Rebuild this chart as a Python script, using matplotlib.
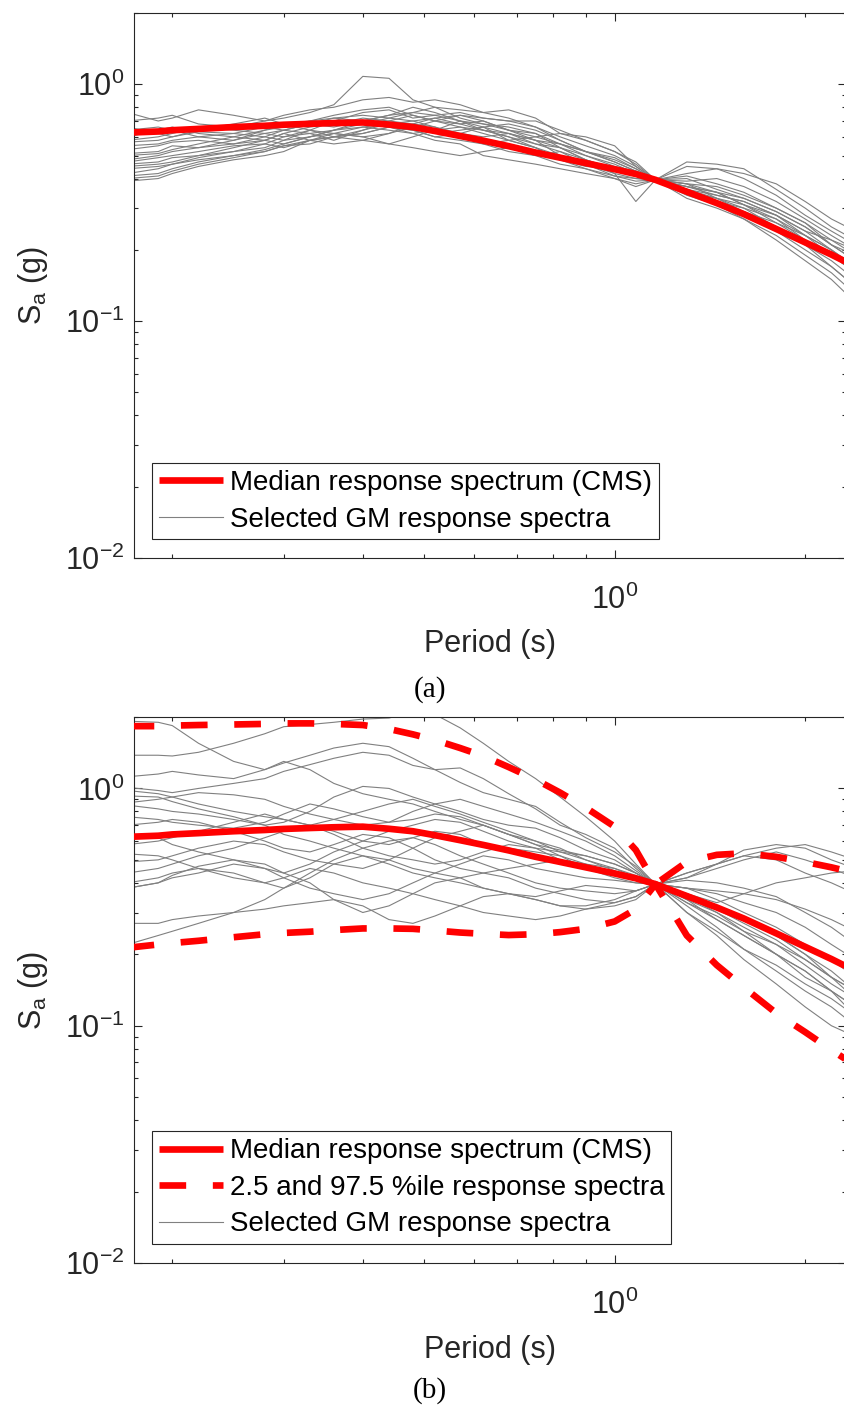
import numpy as np
import matplotlib
matplotlib.use("Agg")
import matplotlib.pyplot as plt
from matplotlib.ticker import LogLocator, NullFormatter, LogFormatterSciNotation

plt.rcParams['font.family'] = ['Liberation Sans', 'DejaVu Sans']
plt.rcParams['mathtext.default'] = 'regular'

# conditioning period and plotting range (s)
T_star = 1.16
x_lim = (0.174, 2.32)
y_lim = (0.01, 2.0)

periods = [0.17, 0.19, 0.20, 0.22, 0.25, 0.28, 0.30, 0.33, 0.36, 0.40,
           0.44, 0.48, 0.52, 0.57, 0.62, 0.68, 0.75, 0.82, 0.90, 1.00,
           1.08, 1.16, 1.30, 1.45, 1.60, 1.80, 2.00, 2.20, 2.40]

# conditional mean spectrum (median) and 2.5 / 97.5 percentile spectra, Sa in g
cms_median = [0.625, 0.632, 0.640, 0.648, 0.660, 0.668, 0.675, 0.681, 0.686, 0.690,
              0.676, 0.660, 0.635, 0.605, 0.578, 0.548, 0.515, 0.490, 0.465, 0.438,
              0.418, 0.395, 0.352, 0.315, 0.283, 0.245, 0.215, 0.191, 0.170]
cms_upper = [1.83, 1.83, 1.84, 1.85, 1.86, 1.87, 1.88, 1.88, 1.87, 1.85,
             1.78, 1.69, 1.60, 1.48, 1.37, 1.23, 1.09, 0.96, 0.83, 0.69,
             0.55, 0.395, 0.49, 0.525, 0.533, 0.515, 0.49, 0.465, 0.44]
cms_lower = [0.213, 0.220, 0.223, 0.228, 0.236, 0.243, 0.246, 0.249, 0.253, 0.257,
             0.257, 0.256, 0.252, 0.247, 0.244, 0.241, 0.243, 0.248, 0.256, 0.275,
             0.31, 0.395, 0.24, 0.18, 0.145, 0.113, 0.094, 0.079, 0.068]

# selected ground motion spectra, case (a)
gm_a = [
    [0.76, 0.70, 0.72, 0.78, 0.74, 0.70, 0.72, 0.76, 0.82, 1.08, 1.06, 0.86, 0.80, 0.78, 0.76, 0.72, 0.66, 0.58, 0.52, 0.47, 0.43, 0.395, 0.37, 0.35, 0.31, 0.26, 0.22, 0.19, 0.16],
    [0.70, 0.72, 0.74, 0.68, 0.66, 0.70, 0.74, 0.78, 0.80, 0.86, 0.88, 0.84, 0.86, 0.82, 0.76, 0.78, 0.72, 0.62, 0.60, 0.55, 0.45, 0.395, 0.42, 0.44, 0.40, 0.34, 0.28, 0.24, 0.21],
    [0.66, 0.62, 0.60, 0.64, 0.68, 0.72, 0.68, 0.70, 0.74, 0.78, 0.80, 0.74, 0.70, 0.68, 0.70, 0.64, 0.58, 0.56, 0.52, 0.49, 0.44, 0.395, 0.36, 0.34, 0.32, 0.28, 0.24, 0.22, 0.20],
    [0.60, 0.64, 0.66, 0.62, 0.60, 0.64, 0.66, 0.70, 0.72, 0.74, 0.72, 0.76, 0.80, 0.72, 0.68, 0.66, 0.62, 0.54, 0.50, 0.46, 0.42, 0.395, 0.41, 0.38, 0.35, 0.30, 0.26, 0.21, 0.18],
    [0.57, 0.58, 0.60, 0.63, 0.62, 0.60, 0.64, 0.68, 0.66, 0.70, 0.74, 0.80, 0.76, 0.70, 0.64, 0.60, 0.56, 0.54, 0.48, 0.44, 0.41, 0.395, 0.38, 0.33, 0.29, 0.26, 0.23, 0.20, 0.17],
    [0.55, 0.56, 0.58, 0.60, 0.58, 0.62, 0.60, 0.64, 0.70, 0.76, 0.78, 0.72, 0.74, 0.76, 0.72, 0.70, 0.66, 0.60, 0.55, 0.50, 0.45, 0.395, 0.35, 0.33, 0.30, 0.25, 0.21, 0.18, 0.15],
    [0.53, 0.55, 0.57, 0.58, 0.56, 0.58, 0.62, 0.66, 0.68, 0.72, 0.70, 0.68, 0.66, 0.60, 0.56, 0.58, 0.60, 0.62, 0.58, 0.52, 0.46, 0.395, 0.47, 0.46, 0.44, 0.36, 0.30, 0.25, 0.22],
    [0.51, 0.52, 0.55, 0.54, 0.56, 0.60, 0.58, 0.60, 0.64, 0.68, 0.72, 0.70, 0.66, 0.62, 0.60, 0.62, 0.58, 0.50, 0.46, 0.42, 0.40, 0.395, 0.37, 0.35, 0.33, 0.29, 0.25, 0.21, 0.19],
    [0.50, 0.51, 0.53, 0.56, 0.60, 0.58, 0.56, 0.60, 0.62, 0.60, 0.62, 0.66, 0.70, 0.74, 0.70, 0.64, 0.60, 0.56, 0.50, 0.45, 0.43, 0.395, 0.39, 0.40, 0.37, 0.32, 0.27, 0.23, 0.20],
    [0.48, 0.50, 0.52, 0.54, 0.58, 0.64, 0.68, 0.64, 0.60, 0.62, 0.66, 0.64, 0.60, 0.58, 0.56, 0.52, 0.50, 0.52, 0.48, 0.42, 0.32, 0.395, 0.34, 0.31, 0.28, 0.24, 0.20, 0.17, 0.14],
    [0.47, 0.49, 0.50, 0.52, 0.55, 0.56, 0.60, 0.62, 0.58, 0.64, 0.70, 0.74, 0.70, 0.66, 0.64, 0.60, 0.54, 0.48, 0.44, 0.40, 0.37, 0.395, 0.36, 0.32, 0.30, 0.27, 0.22, 0.19, 0.17],
    [0.46, 0.47, 0.49, 0.50, 0.54, 0.58, 0.62, 0.58, 0.56, 0.58, 0.62, 0.68, 0.72, 0.68, 0.64, 0.62, 0.56, 0.52, 0.46, 0.41, 0.39, 0.395, 0.33, 0.30, 0.27, 0.23, 0.19, 0.16, 0.13],
    [0.45, 0.46, 0.47, 0.50, 0.52, 0.54, 0.58, 0.64, 0.62, 0.60, 0.56, 0.60, 0.64, 0.70, 0.66, 0.58, 0.54, 0.50, 0.47, 0.43, 0.41, 0.395, 0.38, 0.37, 0.34, 0.30, 0.26, 0.22, 0.19],
    [0.44, 0.45, 0.46, 0.48, 0.50, 0.52, 0.55, 0.58, 0.60, 0.64, 0.68, 0.66, 0.62, 0.64, 0.66, 0.62, 0.58, 0.54, 0.48, 0.44, 0.42, 0.395, 0.36, 0.33, 0.31, 0.28, 0.23, 0.20, 0.16],
    [0.42, 0.44, 0.46, 0.49, 0.52, 0.56, 0.54, 0.58, 0.62, 0.66, 0.64, 0.62, 0.58, 0.56, 0.50, 0.48, 0.46, 0.44, 0.42, 0.40, 0.38, 0.395, 0.35, 0.31, 0.27, 0.22, 0.18, 0.15, 0.12],
    [0.41, 0.42, 0.44, 0.47, 0.50, 0.53, 0.56, 0.60, 0.64, 0.70, 0.74, 0.76, 0.74, 0.70, 0.68, 0.64, 0.62, 0.56, 0.52, 0.47, 0.43, 0.395, 0.40, 0.36, 0.33, 0.29, 0.25, 0.21, 0.18],
    [0.40, 0.41, 0.43, 0.46, 0.49, 0.52, 0.55, 0.56, 0.60, 0.62, 0.66, 0.64, 0.60, 0.62, 0.66, 0.68, 0.64, 0.58, 0.52, 0.48, 0.44, 0.395, 0.37, 0.34, 0.32, 0.28, 0.24, 0.20, 0.17],
    [0.39, 0.40, 0.42, 0.45, 0.48, 0.50, 0.52, 0.58, 0.60, 0.58, 0.56, 0.54, 0.52, 0.50, 0.52, 0.54, 0.50, 0.46, 0.44, 0.41, 0.40, 0.395, 0.38, 0.35, 0.31, 0.27, 0.23, 0.19, 0.16],
    [0.58, 0.60, 0.62, 0.66, 0.64, 0.62, 0.64, 0.62, 0.64, 0.66, 0.68, 0.70, 0.72, 0.74, 0.72, 0.70, 0.70, 0.64, 0.58, 0.52, 0.47, 0.395, 0.45, 0.44, 0.42, 0.38, 0.32, 0.27, 0.24],
    [0.64, 0.66, 0.64, 0.60, 0.62, 0.66, 0.64, 0.68, 0.72, 0.70, 0.66, 0.62, 0.64, 0.66, 0.62, 0.58, 0.54, 0.48, 0.45, 0.44, 0.43, 0.395, 0.36, 0.32, 0.29, 0.25, 0.21, 0.17, 0.14],
]

# selected ground motion spectra, case (b)
gm_b = [
    [1.92, 1.90, 1.84, 1.55, 1.30, 1.20, 1.28, 1.38, 1.48, 1.55, 1.50, 1.34, 1.20, 1.06, 0.96, 0.90, 0.84, 0.72, 0.62, 0.54, 0.47, 0.395, 0.33, 0.28, 0.24, 0.20, 0.17, 0.14, 0.12],
    [1.38, 1.38, 1.37, 1.42, 1.55, 1.70, 1.82, 1.86, 1.90, 1.96, 1.98, 2.10, 2.05, 1.80, 1.55, 1.30, 1.10, 0.92, 0.76, 0.60, 0.48, 0.395, 0.35, 0.30, 0.25, 0.20, 0.16, 0.14, 0.12],
    [1.12, 1.15, 1.18, 1.14, 1.10, 1.20, 1.30, 1.20, 1.05, 0.95, 0.90, 0.86, 0.80, 0.74, 0.70, 0.64, 0.58, 0.55, 0.52, 0.48, 0.44, 0.395, 0.42, 0.48, 0.55, 0.58, 0.56, 0.50, 0.46],
    [1.01, 0.98, 0.96, 1.00, 1.05, 1.10, 1.18, 1.26, 1.34, 1.42, 1.38, 1.25, 1.20, 1.22, 1.10, 0.95, 0.82, 0.70, 0.64, 0.56, 0.46, 0.395, 0.36, 0.32, 0.28, 0.24, 0.20, 0.16, 0.13],
    [0.87, 0.90, 0.92, 0.96, 0.94, 0.90, 0.84, 0.78, 0.74, 0.70, 0.72, 0.80, 0.86, 0.90, 0.84, 0.78, 0.72, 0.66, 0.60, 0.52, 0.45, 0.395, 0.44, 0.48, 0.52, 0.50, 0.44, 0.40, 0.36],
    [0.85, 0.82, 0.80, 0.78, 0.74, 0.70, 0.72, 0.80, 0.92, 1.02, 1.00, 0.92, 0.86, 0.80, 0.74, 0.70, 0.68, 0.62, 0.55, 0.50, 0.44, 0.395, 0.36, 0.33, 0.36, 0.40, 0.42, 0.44, 0.45],
    [0.98, 0.95, 0.92, 0.86, 0.80, 0.76, 0.74, 0.70, 0.66, 0.60, 0.58, 0.62, 0.66, 0.64, 0.58, 0.56, 0.54, 0.52, 0.48, 0.46, 0.42, 0.395, 0.38, 0.36, 0.33, 0.30, 0.26, 0.22, 0.19],
    [0.76, 0.74, 0.72, 0.70, 0.68, 0.72, 0.78, 0.86, 0.82, 0.76, 0.72, 0.74, 0.78, 0.76, 0.70, 0.64, 0.58, 0.52, 0.46, 0.44, 0.42, 0.395, 0.34, 0.30, 0.26, 0.22, 0.18, 0.15, 0.13],
    [0.58, 0.60, 0.62, 0.66, 0.72, 0.78, 0.74, 0.70, 0.74, 0.80, 0.86, 0.90, 0.84, 0.78, 0.72, 0.66, 0.60, 0.54, 0.50, 0.46, 0.43, 0.395, 0.41, 0.40, 0.38, 0.35, 0.30, 0.26, 0.22],
    [0.64, 0.62, 0.58, 0.54, 0.50, 0.46, 0.44, 0.48, 0.54, 0.60, 0.66, 0.70, 0.74, 0.72, 0.66, 0.60, 0.56, 0.54, 0.52, 0.48, 0.44, 0.395, 0.34, 0.28, 0.24, 0.20, 0.17, 0.14, 0.11],
    [0.49, 0.50, 0.52, 0.56, 0.60, 0.58, 0.54, 0.50, 0.48, 0.46, 0.50, 0.56, 0.62, 0.66, 0.70, 0.64, 0.60, 0.56, 0.50, 0.45, 0.42, 0.395, 0.30, 0.24, 0.19, 0.15, 0.12, 0.10, 0.09],
    [0.44, 0.46, 0.48, 0.52, 0.56, 0.62, 0.66, 0.70, 0.64, 0.56, 0.52, 0.50, 0.48, 0.50, 0.54, 0.58, 0.56, 0.50, 0.46, 0.42, 0.40, 0.395, 0.36, 0.31, 0.27, 0.23, 0.19, 0.16, 0.14],
    [0.40, 0.42, 0.44, 0.46, 0.44, 0.40, 0.38, 0.42, 0.48, 0.52, 0.50, 0.46, 0.44, 0.48, 0.52, 0.50, 0.46, 0.44, 0.42, 0.41, 0.40, 0.395, 0.38, 0.34, 0.30, 0.26, 0.22, 0.19, 0.16],
    [0.38, 0.40, 0.42, 0.44, 0.48, 0.46, 0.42, 0.38, 0.36, 0.34, 0.36, 0.40, 0.44, 0.42, 0.38, 0.36, 0.35, 0.37, 0.39, 0.38, 0.37, 0.395, 0.33, 0.29, 0.25, 0.22, 0.19, 0.16, 0.14],
    [0.38, 0.40, 0.43, 0.47, 0.50, 0.48, 0.44, 0.40, 0.34, 0.30, 0.32, 0.36, 0.40, 0.42, 0.44, 0.42, 0.38, 0.36, 0.34, 0.33, 0.35, 0.395, 0.42, 0.46, 0.50, 0.54, 0.50, 0.46, 0.42],
    [0.27, 0.27, 0.28, 0.29, 0.30, 0.31, 0.32, 0.33, 0.34, 0.32, 0.28, 0.27, 0.29, 0.32, 0.35, 0.36, 0.34, 0.32, 0.31, 0.33, 0.35, 0.395, 0.36, 0.32, 0.28, 0.24, 0.20, 0.17, 0.14],
    [0.22, 0.24, 0.25, 0.27, 0.30, 0.34, 0.38, 0.44, 0.50, 0.56, 0.60, 0.62, 0.58, 0.52, 0.48, 0.44, 0.40, 0.38, 0.37, 0.36, 0.37, 0.395, 0.32, 0.26, 0.21, 0.17, 0.14, 0.12, 0.10],
    [0.53, 0.52, 0.50, 0.46, 0.42, 0.40, 0.42, 0.46, 0.44, 0.40, 0.38, 0.36, 0.34, 0.32, 0.30, 0.29, 0.28, 0.29, 0.31, 0.32, 0.34, 0.395, 0.44, 0.48, 0.52, 0.56, 0.58, 0.54, 0.50],
    [0.70, 0.72, 0.74, 0.72, 0.66, 0.60, 0.56, 0.54, 0.58, 0.64, 0.62, 0.56, 0.50, 0.46, 0.44, 0.46, 0.48, 0.50, 0.48, 0.44, 0.42, 0.395, 0.38, 0.37, 0.36, 0.34, 0.31, 0.28, 0.25],
    [0.93, 0.92, 0.88, 0.82, 0.76, 0.70, 0.64, 0.60, 0.56, 0.52, 0.48, 0.44, 0.42, 0.40, 0.38, 0.36, 0.34, 0.32, 0.32, 0.34, 0.37, 0.395, 0.30, 0.25, 0.21, 0.18, 0.15, 0.13, 0.11],
]

dark = '#262626'
gray = '#808080'
red = '#ff0000'
fs_tick = 22
fs_leg = 20

fig = plt.figure(figsize=(8.44, 14.12), dpi=100)
W, H = 844.0, 1412.0
ax_a = fig.add_axes([134 / W, 1 - 558 / H, 712 / W, 545 / H])
ax_b = fig.add_axes([134 / W, 1 - 1263 / H, 712 / W, 546 / H])


def draw_panel(ax, gm, with_bounds):
    for k, sa in enumerate(gm):
        ax.plot(periods, sa, color=gray, lw=0.8,
                label='Selected GM response spectra' if k == 0 else None, zorder=2)
    ax.plot(periods, cms_median, color=red, lw=4.8, solid_capstyle='butt',
            label='Median response spectrum (CMS)', zorder=3)
    if with_bounds:
        ax.plot(periods, cms_upper, color=red, lw=4.8, ls=(0, (4, 4)),
                dash_capstyle='butt', label='2.5 and 97.5 %ile response spectra', zorder=3)
        ax.plot(periods, cms_lower, color=red, lw=4.8, ls=(0, (4, 4)),
                dash_capstyle='butt', zorder=3)

    ax.set_xscale('log')
    ax.set_yscale('log')
    ax.set_xlim(*x_lim)
    ax.set_ylim(*y_lim)

    for axis in (ax.xaxis, ax.yaxis):
        axis.set_major_locator(LogLocator(base=10))
        axis.set_minor_locator(LogLocator(base=10, subs=np.arange(2, 10)))
        axis.set_major_formatter(LogFormatterSciNotation())
        axis.set_minor_formatter(NullFormatter())

    ax.tick_params(which='both', direction='in', top=True, right=True,
                   color=dark, labelcolor=dark, labelsize=fs_tick, width=0.8)
    ax.tick_params(which='major', length=5.5)
    ax.tick_params(which='minor', length=3.2)
    ax.tick_params(axis='x', which='major', pad=19)
    ax.tick_params(axis='y', which='major', pad=7)
    for sp in ax.spines.values():
        sp.set_color(dark)
        sp.set_linewidth(0.8)

    ax.set_xlabel('Period (s)', fontsize=fs_tick, color=dark)
    ax.xaxis.set_label_coords(0.5, -0.131)
    ax.set_ylabel('S$_{a}$ (g)', fontsize=fs_tick, color=dark)
    ax.yaxis.set_label_coords(-0.118, 0.5)

    handles, labels = ax.get_legend_handles_labels()
    order = [labels.index('Median response spectrum (CMS)')]
    if with_bounds:
        order.append(labels.index('2.5 and 97.5 %ile response spectra'))
    order.append(labels.index('Selected GM response spectra'))
    leg = ax.legend([handles[i] for i in order], [labels[i] for i in order],
                    loc='lower left', bbox_to_anchor=(0.025, 0.034),
                    borderaxespad=0, fontsize=fs_leg, frameon=True, fancybox=False,
                    framealpha=1, edgecolor=dark, handlelength=2.3,
                    handletextpad=0.25, borderpad=0.25, labelspacing=0.38)
    leg.get_frame().set_linewidth(0.8)


draw_panel(ax_a, gm_a, False)
draw_panel(ax_b, gm_b, True)

fig.text(430 / W, 1 - 690 / H, '(a)', ha='center', va='center',
         fontsize=21, family='Liberation Serif', color='black')
fig.text(430 / W, 1 - 1391 / H, '(b)', ha='center', va='center',
         fontsize=21, family='Liberation Serif', color='black')

fig.savefig('out.png', dpi=100)
